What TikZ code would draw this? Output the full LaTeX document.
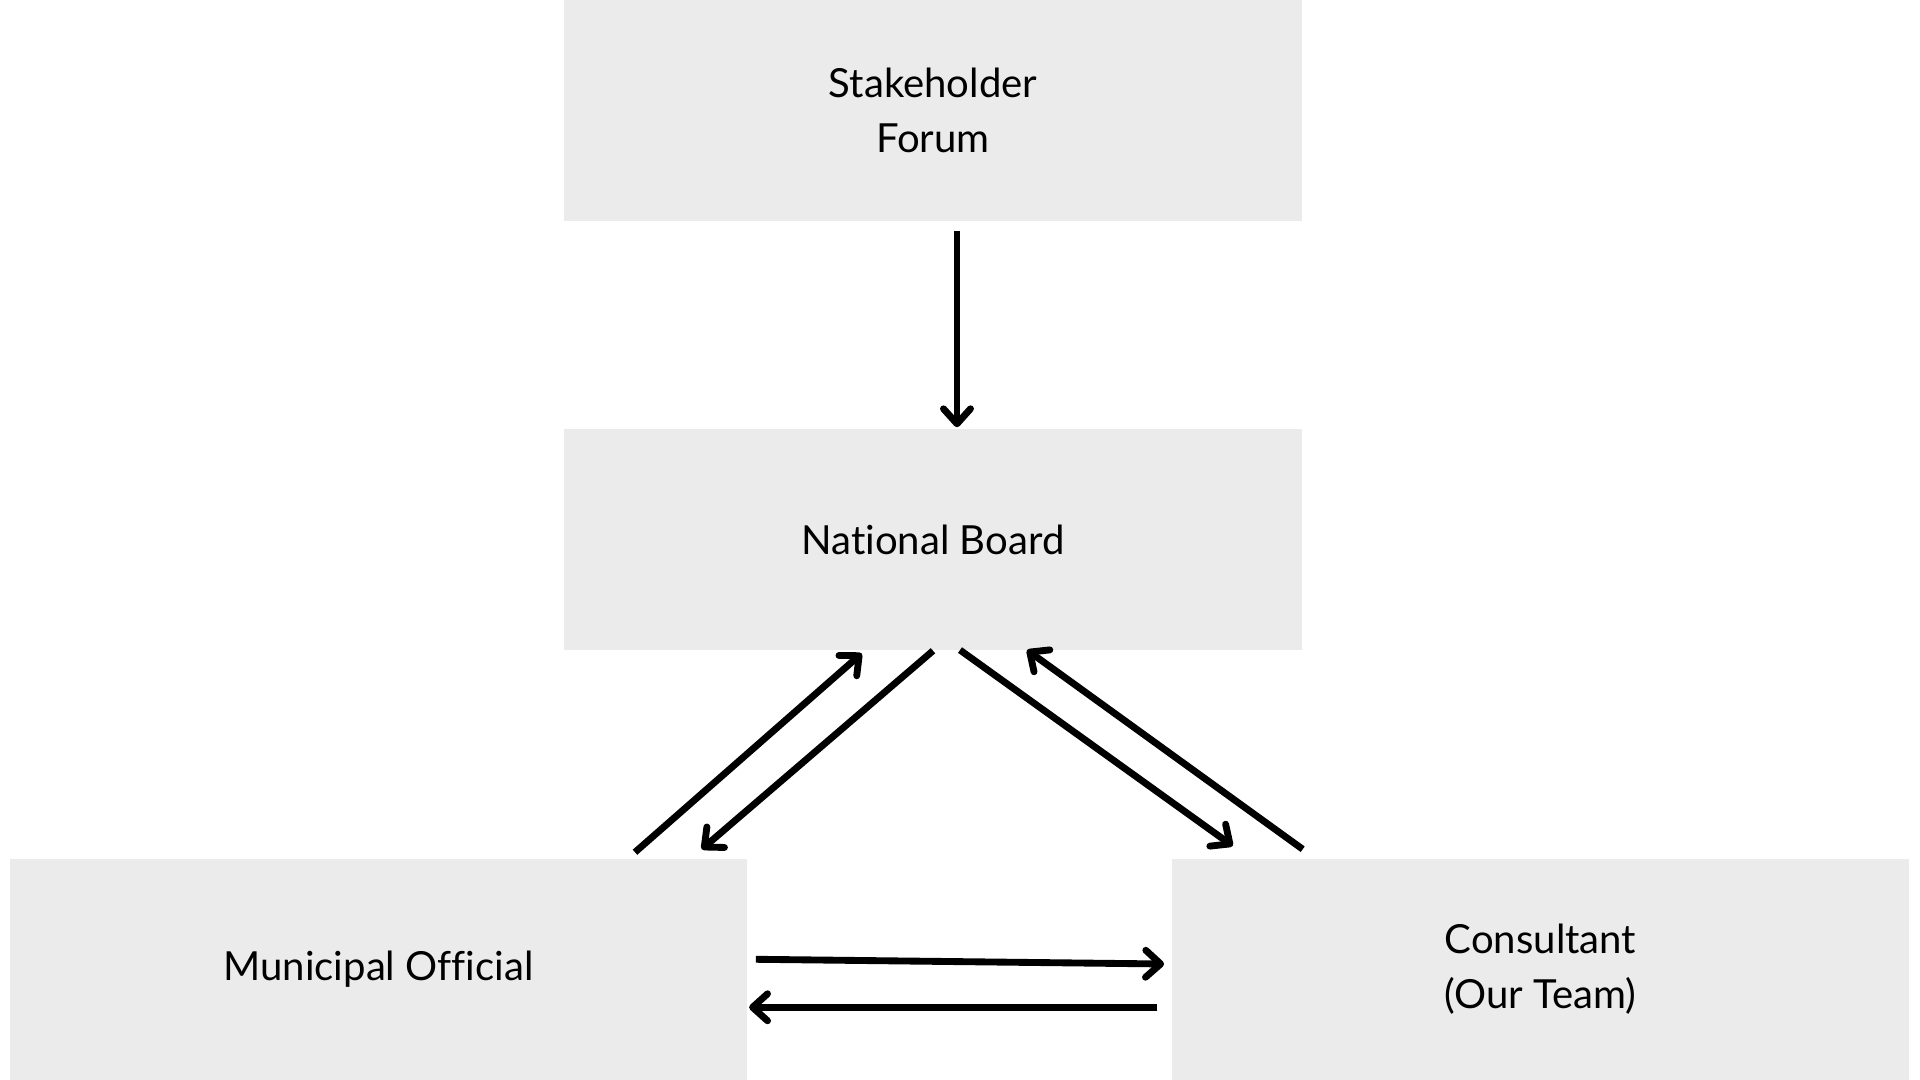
\documentclass[tikz,border=0pt]{standalone}
\usepackage{fontspec}
\setmainfont{Lato}[Ligatures=NoCommon]
\usetikzlibrary{arrows.meta, calc}
\definecolor{BoxGrey}{HTML}{EBEBEB}

\begin{document}
\begin{tikzpicture}[x=0.01cm, y=-0.01cm,
		every node/.style={font=\fontsize{11.4pt}{15.6pt}\selectfont, align=center},
		box/.style={fill=BoxGrey, minimum width=7.37cm, minimum height=2.21cm, inner sep=0pt},
		link/.style={line width=1.95pt, -{Straight Barb[length=1.5mm, width=2.7mm, round]}}]
	\useasboundingbox (0,0) rectangle (1920,1080);
	
	\node[box] (forum) at (933, 110.5) {Stakeholder\\Forum};
	\node[box] (board) at (933, 539.5) {National Board};
	\node[box] (official) at (378.4, 969.5) {Municipal Official};
	\node[box] (consultant) at (1540.5, 969.5) {Consultant\\(Our Team)};
	
	\draw[link] ($(forum.south)+(24,9)$) -- ($(board.north)+(24,-1)$);
	
	% official <-> board
	\draw[link] ($(official.north)+(256.6,-6)$) -- ($(board.south)+(-71.3,2.7)$);
	\draw[link] ($(board.south)+(0,0)$) -- ($(official.north)+(323.3,-9)$);
	
	% board <-> consultant
	\draw[link] ($(board.south)+(27,-0.7)$) -- ($(consultant.north)+(-307.8,-12.3)$);
	\draw[link] ($(consultant.north)+(-237.8,-9)$) -- ($(board.south)+(94,-0.7)$);
	
	% official <-> consultant
	\draw[link] ($(official.east)+(8,-10.2)$) -- ($(consultant.west)+(-7,-5.5)$);
	\draw[link] ($(consultant.west)+(-13.7,37.8)$) -- ($(official.east)+(1.3,37.8)$);
\end{tikzpicture}
\end{document}
